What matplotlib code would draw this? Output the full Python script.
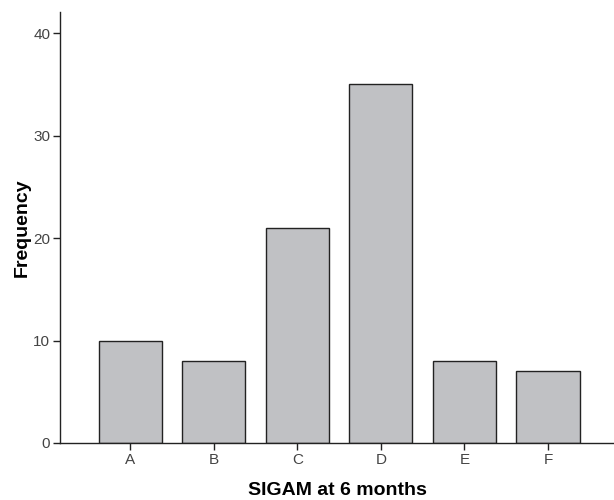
import matplotlib
matplotlib.use('Agg')
import matplotlib.pyplot as plt

categories = ['A', 'B', 'C', 'D', 'E', 'F']
frequency = [10, 8, 21, 35, 8, 7]
y_ticks = [0, 10, 20, 30, 40]

plt.rcParams['font.family'] = ['Liberation Sans', 'DejaVu Sans']

fig = plt.figure(figsize=(6.14, 5.0), dpi=100)
ax = fig.add_axes([60 / 614, 57 / 500, 554 / 614, 431 / 500])

x = range(len(categories))
ax.bar(x, frequency, width=0.755, color='#c0c1c4', edgecolor='#222222', linewidth=1.0, zorder=2)

ax.set_xlim(-0.84, 5.79)
ax.set_ylim(0, 42.05)
ax.set_xticks(list(x))
ax.set_xticklabels(categories)
ax.set_yticks(y_ticks)

for s in ['top', 'right']:
    ax.spines[s].set_visible(False)
for s in ['left', 'bottom']:
    ax.spines[s].set_linewidth(1.0)
    ax.spines[s].set_color('#222222')

ax.tick_params(axis='both', direction='out', length=5, width=1.0, color='#222222',
               labelsize=11, labelcolor='#444444', pad=2)

ax.set_ylabel('Frequency', fontsize=14, fontweight='bold', labelpad=2)
ax.set_xlabel('SIGAM at 6 months', fontsize=14, fontweight='bold', labelpad=11)

fig.savefig('out.png', dpi=100)
